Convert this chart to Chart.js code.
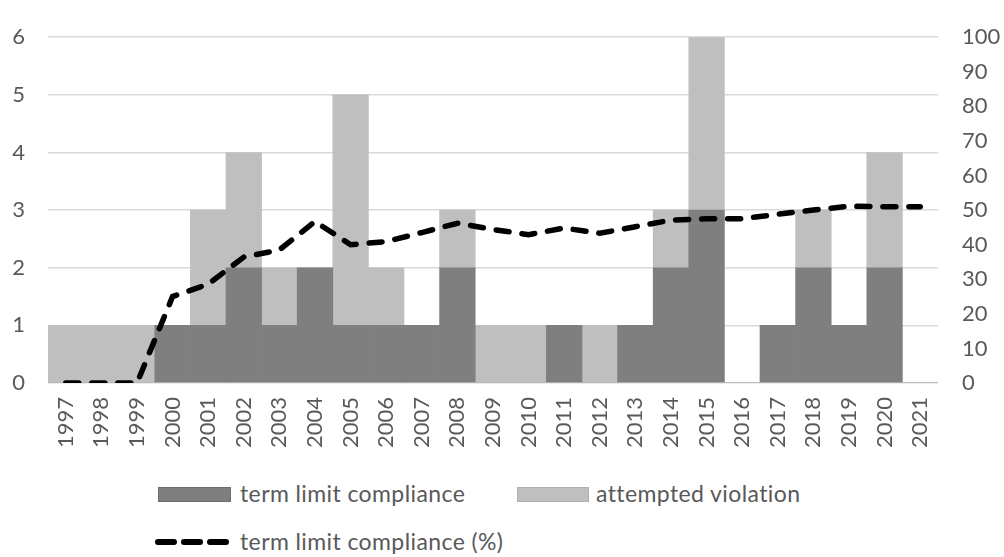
<!DOCTYPE html>
<html>
<head>
<meta charset="utf-8">
<script src="https://cdn.jsdelivr.net/npm/chart.js@4/dist/chart.umd.min.js"></script>
<style>
  html, body { margin: 0; padding: 0; background: #fff; }
  #wrap { position: relative; width: 1004px; height: 557px; overflow: hidden; font-family: Lato, "Open Sans", sans-serif; color: #595959; }
  #cv { position: absolute; left: 0; top: 0; }
  .lg { position: absolute; font-size: 23px; line-height: 26px; letter-spacing: 0.4px; white-space: nowrap; }
  .box { position: absolute; height: 15px; width: 73px; box-sizing: border-box; }
</style>
</head>
<body>
<div id="wrap">
  <canvas id="cv" width="1004" height="470"></canvas>
  <div class="box" style="left:158px;top:487px;background:#7f7f7f;border:1px solid #6e6e6e;"></div>
  <div class="lg" style="left:240px;top:480px;">term limit compliance</div>
  <div class="box" style="left:517px;top:487px;width:72px;background:#bfbfbf;border:1px solid #b0b0b0;"></div>
  <div class="lg" style="left:596px;top:480px;">attempted violation</div>
  <svg style="position:absolute;left:150px;top:532px;" width="90" height="20">
    <line x1="8" y1="10" x2="80" y2="10" stroke="#000" stroke-width="6" stroke-linecap="round" stroke-dasharray="16 10"/>
  </svg>
  <div class="lg" style="left:240px;top:528px;">term limit compliance (%)</div>
</div>
<script>
const years = ["1997","1998","1999","2000","2001","2002","2003","2004","2005","2006","2007","2008","2009","2010","2011","2012","2013","2014","2015","2016","2017","2018","2019","2020","2021"];
const compliance = [0,0,0,1,1,2,1,2,1,1,1,2,0,0,1,0,1,2,3,0,1,2,1,2,0];
const violation  = [1,1,1,0,2,2,1,0,4,1,0,1,1,1,0,1,0,1,3,0,0,1,0,2,0];
const compliancePct = [0,0,0,25,28.6,36.4,38.5,46.7,40,40.9,43.5,46.2,44.4,42.9,44.8,43.3,45.2,47.1,47.5,47.5,48.8,50,51.1,51,51];
const leftTicks = [0,1,2,3,4,5,6];
const rightTicks = [0,10,20,30,40,50,60,70,80,90,100];

const textColor = '#595959';
const fontFam = 'Lato, "Open Sans", sans-serif';

new Chart(document.getElementById('cv'), {
  data: {
    labels: years,
    datasets: [
      { type: 'line', label: 'term limit compliance (%)', data: compliancePct, yAxisID: 'y2',
        borderColor: '#000', borderWidth: 5.5, borderDash: [13, 13], borderCapStyle: 'round',
        pointRadius: 0, tension: 0, fill: false, order: 0 },
      { type: 'bar', label: 'term limit compliance', data: compliance, yAxisID: 'y',
        backgroundColor: '#7f7f7f', barPercentage: 1, categoryPercentage: 1, order: 1, stack: 's' },
      { type: 'bar', label: 'attempted violation', data: violation, yAxisID: 'y',
        backgroundColor: '#bfbfbf', barPercentage: 1, categoryPercentage: 1, order: 1, stack: 's' }
    ]
  },
  options: {
    responsive: false,
    animation: false,
    devicePixelRatio: 1,
    layout: { padding: { top: 19, bottom: 0, left: 0, right: 0 } },
    plugins: { legend: { display: false }, tooltip: { enabled: false } },
    scales: {
      x: {
        stacked: true,
        grid: { display: false, drawTicks: false },
        border: { display: false },
        ticks: { minRotation: 90, maxRotation: 90, padding: 14, color: textColor,
                 font: { family: fontFam, size: 22 } },
        afterFit: (s) => { s.height = 87; }
      },
      y: {
        position: 'left', stacked: true, min: 0, max: 6,
        afterBuildTicks: (s) => { s.ticks = leftTicks.map(v => ({ value: v })); },
        grid: { color: '#d9d9d9', lineWidth: 1.5, drawTicks: false },
        border: { display: false },
        ticks: { padding: 23, color: textColor, font: { family: fontFam, size: 22 } },
        afterFit: (s) => { s.width = 48; }
      },
      y2: {
        position: 'right', min: 0, max: 100,
        afterBuildTicks: (s) => { s.ticks = rightTicks.map(v => ({ value: v })); },
        grid: { display: false, drawTicks: false },
        border: { display: false },
        ticks: { padding: 24, color: textColor, font: { family: fontFam, size: 22 } },
        afterFit: (s) => { s.width = 66; }
      }
    }
  }
});
</script>
</body>
</html>
